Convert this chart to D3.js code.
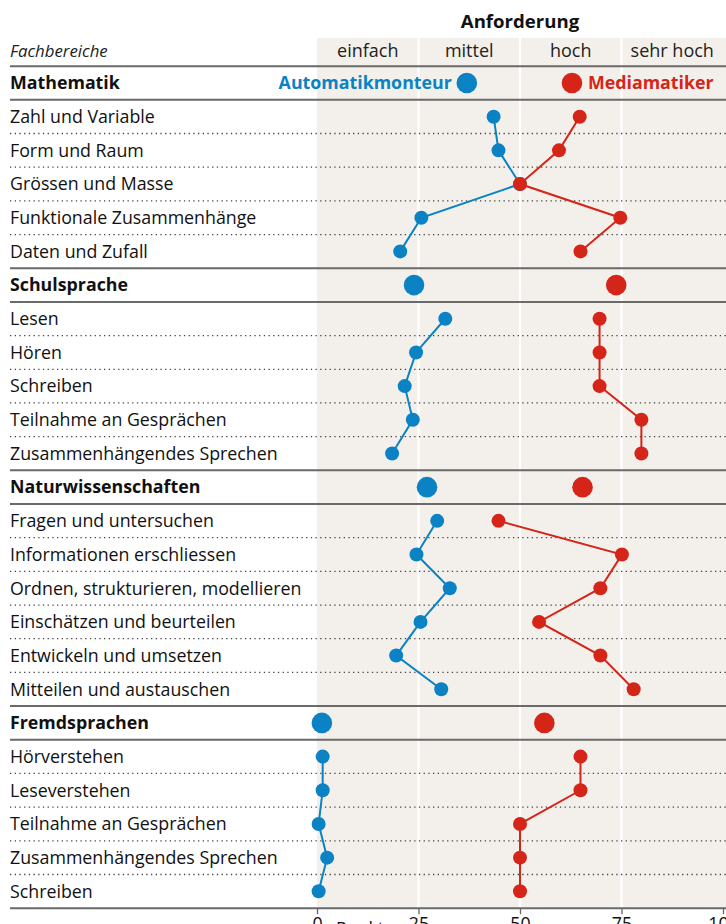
<!DOCTYPE html>
<html>
<head>
<meta charset="utf-8">
<script src="https://cdn.jsdelivr.net/npm/d3@7"></script>
<style>
  html, body { margin: 0; padding: 0; background: #fff; }
  svg { display: block; font-family: "Open Sans", "Noto Sans", sans-serif; }
</style>
</head>
<body>
<svg id="chart" width="726" height="924"></svg>
<script>
// ---- data ----
const sections = ["Mathematik", "Schulsprache", "Naturwissenschaften", "Fremdsprachen"];
const sectionItems = [
  ["Zahl und Variable", "Form und Raum", "Grössen und Masse", "Funktionale Zusammenhänge", "Daten und Zufall"],
  ["Lesen", "Hören", "Schreiben", "Teilnahme an Gesprächen", "Zusammenhängendes Sprechen"],
  ["Fragen und untersuchen", "Informationen erschliessen", "Ordnen, strukturieren, modellieren", "Einschätzen und beurteilen", "Entwickeln und umsetzen", "Mitteilen und austauschen"],
  ["Hörverstehen", "Leseverstehen", "Teilnahme an Gesprächen", "Zusammenhängendes Sprechen", "Schreiben"]
];
const automatikmonteur = [
  [43.5, 44.7, 50, 25.7, 20.5],
  [31.6, 24.4, 21.6, 23.6, 18.5],
  [29.6, 24.5, 32.7, 25.5, 19.5, 30.6],
  [1.4, 1.4, 0.4, 2.5, 0.4]
];
const mediamatiker = [
  [64.7, 59.6, 50, 74.7, 64.9],
  [69.6, 69.6, 69.6, 79.9, 79.9],
  [44.7, 75.1, 69.8, 54.7, 69.8, 78.0],
  [64.9, 64.9, 50, 50, 50]
];
const automatikmonteurAvg = [36.9, 23.9, 27.1, 1.2];
const mediamatikerAvg = [62.8, 73.7, 65.4, 56.0];
const levels = ["einfach", "mittel", "hoch", "sehr hoch"];
const tickValues = [0, 25, 50, 75, 100];
const seriesNames = ["Automatikmonteur", "Mediamatiker"];

// ---- layout ----
const BLUE = "#0a82c4", RED = "#d52518", BG = "#f3f0eb";
const FS = 17.8;
const svg = d3.select("#chart");
const W = 726;
const x = d3.scaleLinear().domain([0, 100]).range([317, 723]);

// build rows
const rows = [];
sections.forEach((s, si) => {
  rows.push({type: "section", label: s, si});
  sectionItems[si].forEach((it, ii) => rows.push({type: "item", label: it, si, ii}));
});
const rowH = 33.68;
const y = d3.scalePoint().domain(d3.range(rows.length)).range([83, 83 + rowH * (rows.length - 1)]);
const yTop = y(0) - rowH / 2;
const yBottom = y(rows.length - 1) + rowH / 2;

// background band
svg.append("rect").attr("x", x(0)).attr("y", 38).attr("width", W - x(0)).attr("height", yBottom - 38).attr("fill", BG);
// white gridlines
svg.selectAll("line.grid").data([25, 50, 75]).join("line")
  .attr("x1", d => x(d)).attr("x2", d => x(d)).attr("y1", 38).attr("y2", yBottom)
  .attr("stroke", "#fff").attr("stroke-width", 2.2);

// header
svg.append("text").attr("x", x(50)).attr("y", 28).attr("text-anchor", "middle")
  .attr("font-weight", 700).attr("font-size", 18.6).attr("fill", "#111").text("Anforderung");
svg.append("text").attr("x", 10).attr("y", 57).attr("font-style", "italic")
  .attr("font-size", 16.8).attr("fill", "#222").text("Fachbereiche");
svg.selectAll("text.level").data(levels).join("text")
  .attr("x", (d, i) => x(12.5 + 25 * i)).attr("y", 57).attr("text-anchor", "middle")
  .attr("font-size", 18).attr("fill", "#222").text(d => d);

// dotted lines between items
rows.forEach((r, i) => {
  if (i === 0) return;
  const prev = rows[i - 1];
  const yy = y(i) - rowH / 2;
  if (r.type === "item" && prev.type === "item") {
    svg.append("line").attr("x1", 10).attr("x2", W).attr("y1", yy).attr("y2", yy)
      .attr("stroke", "#444").attr("stroke-width", 1.3).attr("stroke-dasharray", "1.3,3.4");
  }
});
// solid lines
const solidYs = [yTop];
rows.forEach((r, i) => {
  if (r.type === "section") {
    if (i > 0) solidYs.push(y(i) - rowH / 2);
    solidYs.push(y(i) + rowH / 2);
  }
});
solidYs.push(yBottom);
svg.selectAll("line.solid").data(solidYs).join("line")
  .attr("x1", 10).attr("x2", W).attr("y1", d => d).attr("y2", d => d)
  .attr("stroke", "#6a6a6a").attr("stroke-width", 2);

// row labels
svg.selectAll("text.rowlabel").data(rows).join("text")
  .attr("x", 10).attr("y", (d, i) => y(i) + 6.3)
  .attr("font-size", FS).attr("font-weight", d => d.type === "section" ? 700 : 400)
  .attr("fill", "#111").text(d => d.label);

// series lines and dots
const series = [
  {vals: automatikmonteur, avg: automatikmonteurAvg, color: BLUE},
  {vals: mediamatiker, avg: mediamatikerAvg, color: RED}
];
const line = d3.line().x(d => x(d.v)).y(d => y(d.row));
series.forEach(s => {
  sections.forEach((sec, si) => {
    const secRow = rows.findIndex(r => r.type === "section" && r.si === si);
    const pts = s.vals[si].map((v, ii) => ({v, row: secRow + 1 + ii}));
    svg.append("path").datum(pts).attr("d", line).attr("fill", "none")
      .attr("stroke", s.color).attr("stroke-width", 2);
    svg.append("g").selectAll("circle").data(pts).join("circle")
      .attr("cx", d => x(d.v)).attr("cy", d => y(d.row)).attr("r", 7).attr("fill", s.color);
    svg.append("circle").attr("cx", x(s.avg[si])).attr("cy", y(secRow)).attr("r", 10.3).attr("fill", s.color);
  });
});

// legend labels in first section row
svg.append("text").attr("x", x(automatikmonteurAvg[0]) - 15).attr("y", y(0) + 6.3).attr("text-anchor", "end")
  .attr("font-weight", 700).attr("font-size", FS).attr("fill", BLUE).text(seriesNames[0]);
svg.append("text").attr("x", x(mediamatikerAvg[0]) + 16).attr("y", y(0) + 6.3).attr("text-anchor", "start")
  .attr("font-weight", 700).attr("font-size", FS).attr("fill", RED).text(seriesNames[1]);

// bottom axis
const axis = svg.append("g").attr("transform", `translate(0,${yBottom})`)
  .call(d3.axisBottom(x).tickValues(tickValues).tickSize(6).tickPadding(3).tickFormat(d3.format("d")));
axis.select(".domain").remove();
axis.selectAll(".tick line").attr("stroke", "#666").attr("stroke-width", 1.3);
axis.selectAll(".tick text").attr("font-size", FS).attr("fill", "#111").attr("font-family", "'Open Sans', sans-serif");
axis.append("text").attr("x", x(0) + 19).attr("y", 27).attr("text-anchor", "start")
  .attr("font-size", FS).attr("fill", "#111").attr("font-family", "'Open Sans', sans-serif").text("Punkte");
</script>
</body>
</html>
